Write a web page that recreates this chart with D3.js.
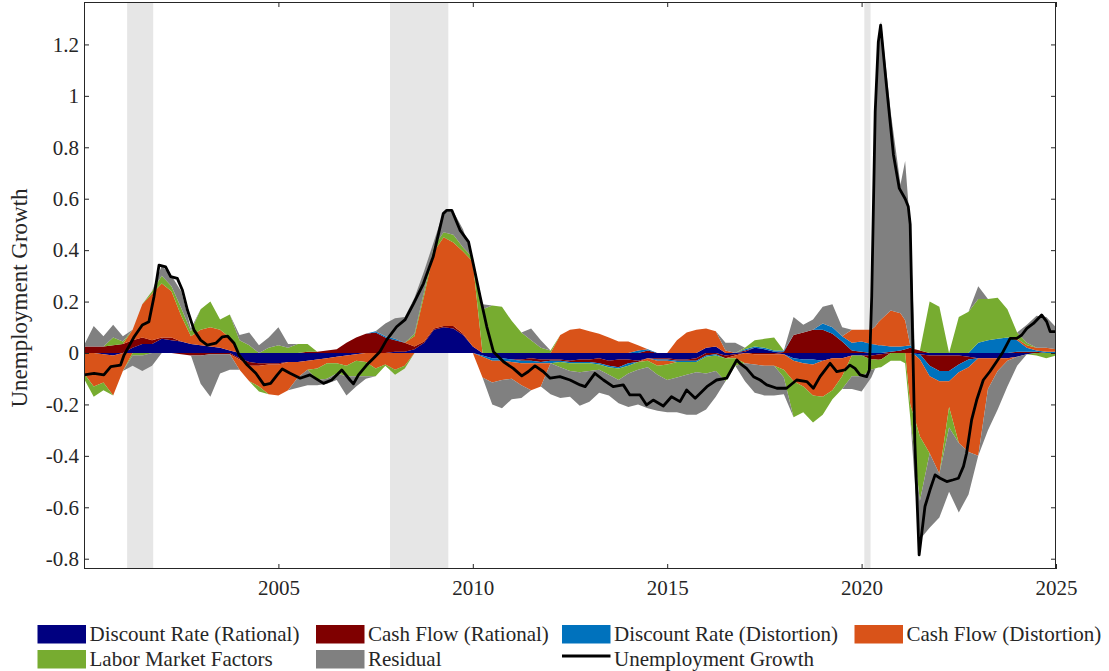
<!DOCTYPE html>
<html>
<head>
<meta charset="utf-8">
<script src="https://cdn.jsdelivr.net/npm/d3@7"></script>
<style>
  body { margin: 0; background: #fff; }
  svg text { font-family: "Liberation Serif", "Times New Roman", serif; fill: #262626; }
</style>
</head>
<body>
<div id="chart"></div>
<script>
// quarterly grid for the contributions, 2000Q1 .. 2025Q1, plus a few extra points around the 2020 spike
const dates = d3.range(101).map(i => 2000 + i / 4)
  .concat([2020.35, 2020.43, 2021.12, 2021.37])
  .sort((a, b) => a - b);

const drRational = [
  0, 0, -0.005, -0.01, 0, 0.02, 0.035, 0.035, 0.055, 0.05,
  0.045, 0.035, 0.03, 0.025, 0.02, 0.01, -0.02, -0.035, -0.04, -0.04,
  -0.04, -0.035, -0.035, -0.03, -0.025, -0.02, -0.015, -0.01, -0.005, 0,
  0, 0, 0.005, 0.005, 0.015, 0.04, 0.09, 0.1, 0.095, 0.07,
  0.025, -0.01, -0.02, -0.02, -0.025, -0.025, -0.02, -0.025, -0.025, -0.025,
  -0.03, -0.025, -0.025, -0.02, -0.03, -0.025, -0.025, -0.03, -0.02, -0.02,
  -0.02, -0.025, -0.025, -0.02, 0.02, 0.025, -0.01, -0.005, 0.005, 0.02,
  0.015, 0.005, -0.005, -0.02, -0.025, -0.025, -0.03, -0.02, -0.02, -0.01,
  -0.01, -0.01, -0.008, -0.006, -0.005, 0, 0, 0, 0, -0.003, -0.005, -0.01, -0.01, -0.01,
  -0.01, -0.015, -0.02, -0.02, -0.02, -0.02, -0.015, -0.005, 0, 0,
  0
];
const cfRational = [
  0.025, 0.025, 0.025, 0.03, 0.035, 0.03, 0.025, 0.015, 0.005, 0.01,
  -0.005, -0.01, -0.01, -0.005, -0.005, -0.005, -0.005, -0.015, -0.01, -0.005,
  -0.005, 0, 0, 0.005, 0.005, 0.01, 0.015, 0.04, 0.06, 0.075,
  0.08, 0.06, 0.045, 0.035, 0.01, 0.005, 0.005, 0.005, 0.01, 0.005,
  0, 0, 0, 0, 0, -0.005, -0.01, -0.01, -0.005, -0.005,
  -0.005, -0.01, -0.01, -0.02, -0.02, -0.03, -0.015, -0.005, 0.01, -0.005,
  -0.005, -0.005, -0.005, -0.01, -0.01, -0.005, -0.01, -0.005, 0.005, -0.005,
  -0.005, -0.005, 0.005, 0.07, 0.08, 0.09, 0.09, 0.075, 0.045, 0.01,
  0.005, -0.015, -0.017, -0.02, -0.02, 0.005, 0.01, 0.015, 0.02, 0.015, 0.01, -0.04, -0.06, -0.06,
  -0.035, -0.01, 0, 0, 0, 0, 0.005, 0.005, 0.005, 0,
  0
];
const drDistortion = [
  0, 0, 0, 0, 0, 0, 0, 0, 0, 0,
  0, 0, 0, 0, 0, 0, 0, 0, 0, 0,
  0, 0, 0, 0, 0, 0, 0, 0, 0, 0,
  0.005, 0.005, 0.005, 0, 0, 0, 0, 0, 0, 0,
  0, -0.005, -0.01, -0.01, -0.01, -0.01, -0.01, -0.005, -0.01, -0.005,
  -0.005, -0.005, -0.005, -0.005, -0.005, -0.005, -0.01, 0.01, 0.005, -0.005,
  -0.005, -0.005, -0.005, -0.005, -0.005, -0.005, 0, 0, 0.005, 0.005,
  0.005, 0.005, 0.005, -0.01, -0.015, -0.02, 0.025, 0.025, 0.02, 0.03,
  0.04, 0.035, 0.033, 0.03, 0.03, 0.02, 0.015, 0.012, 0.01, -0.005, -0.02, -0.04, -0.04, -0.04,
  -0.03, -0.03, 0.04, 0.05, 0.055, 0.06, 0.045, 0.015, 0.005, 0.005,
  0.005
];
const cfDistortion = [
  -0.08, -0.13, -0.11, -0.155, -0.07, 0.04, 0.13, 0.18, 0.21, 0.18,
  0.10, 0.03, 0.06, 0.075, 0.07, 0.05, -0.04, -0.06, -0.08, -0.115,
  -0.12, -0.11, -0.06, -0.035, -0.035, -0.02, -0.025, -0.04, -0.025, -0.035,
  -0.06, -0.045, -0.065, -0.05, 0.04, 0.18, 0.3, 0.345, 0.325, 0.32,
  0.33, -0.08, -0.085, -0.075, -0.065, -0.085, -0.105, -0.09, 0, 0.07,
  0.09, 0.095, 0.085, 0.075, 0.06, 0.045, 0.045, 0.02, -0.01, -0.02,
  -0.015, 0.05, 0.08, 0.09, 0.075, 0.06, 0.01, -0.01, -0.04, -0.04,
  -0.045, -0.045, -0.06, -0.08, -0.09, -0.12, -0.14, -0.125, -0.07, 0.05,
  0.045, 0.055, 0.07, 0.09, 0.1, 0.14, 0.13, 0.1, -0.2, -0.25, -0.3, -0.3, -0.36, -0.1,
  -0.275, -0.33, -0.38, -0.12, -0.05, -0.01, 0.005, 0.01, 0.01, 0.015,
  0.01
];
const laborMarket = [
  -0.02, -0.04, -0.03, 0.03, 0.01, -0.01, -0.01, 0.01, 0.03, 0.02,
  0.03, 0.02, 0.08, 0.1, 0.04, 0.09, 0.05, 0.03, -0.02, 0.02,
  0.03, 0.02, 0.035, 0.03, -0.045, -0.06, -0.04, -0.04, -0.06, -0.055,
  -0.03, -0.005, -0.02, -0.01, 0.01, 0.015, 0.02, 0.02, 0.03, 0.015,
  0.015, 0.17, 0.185, 0.18, 0.125, 0.08, 0.05, 0.02, 0.01, -0.02,
  -0.03, -0.035, -0.03, -0.02, -0.03, -0.045, -0.03, -0.03, -0.025, -0.035,
  -0.06, -0.06, -0.05, -0.04, -0.065, -0.06, -0.09, -0.03, 0.005, 0.025,
  0.035, 0.05, -0.03, -0.14, -0.1, -0.105, -0.07, -0.035, -0.05, -0.08,
  -0.08, -0.04, -0.035, -0.03, -0.03, -0.03, -0.03, -0.04, -0.05, -0.15, -0.25, 0.2, 0.18, -0.08,
  0.14, 0.16, 0.17, 0.16, 0.16, 0.11, 0.025, 0.01, -0.01, -0.02,
  -0.01
];
const residual = [
  0.005, 0.08, 0.04, 0.05, 0.02, -0.04, -0.06, -0.05, 0.04, 0.04,
  0.065, 0.01, -0.11, -0.165, -0.075, -0.06, 0.02, 0.05, 0.03, 0.04,
  0.07, 0.015, -0.04, -0.06, -0.02, -0.02, -0.025, -0.075, -0.04, -0.01,
  0, 0.05, 0.08, 0.1, 0.14, 0.08, 0.02, 0.08, 0.09, 0.07,
  0, 0.02, -0.085, -0.11, -0.08, -0.05, 0.045, 0.03, -0.12, -0.12,
  -0.1, -0.13, -0.12, -0.09, -0.08, -0.09, -0.13, -0.135, -0.16, -0.14,
  -0.125, -0.135, -0.155, -0.165, -0.14, -0.1, 0.03, 0.04, -0.07, -0.11,
  -0.115, -0.115, -0.065, 0.07, 0.03, 0.04, 0.065, 0.09, 0.035, -0.05,
  -0.06, -0.03, 0.84, 1.09, 1.16, 0.77, 0.5, 0.62, 0.46, -0.1, -0.15, -0.29, -0.17, -0.25,
  -0.27, -0.165, 0.05, -0.16, -0.15, -0.1, -0.035, 0.07, 0.125, 0.12,
  0.085
];

// unemployment growth, read at its own (finer, irregular) dates
const lineYears = [
  2000.00, 2000.26, 2000.51, 2000.69, 2000.94, 2001.03, 2001.29, 2001.50, 2001.67, 2001.80,
  2001.93, 2002.10, 2002.23, 2002.40, 2002.53, 2002.66, 2002.83, 2003.00, 2003.17, 2003.39,
  2003.56, 2003.69, 2003.86, 2003.99, 2004.20, 2004.42, 2004.63, 2004.80, 2004.97, 2005.10,
  2005.30, 2005.56, 2005.81, 2006.16, 2006.37, 2006.63, 2006.84, 2006.93, 2007.06, 2007.27,
  2007.44, 2007.61, 2007.78, 2008.04, 2008.26, 2008.47, 2008.73, 2008.98, 2009.24, 2009.33,
  2009.46, 2009.67, 2009.89, 2010.01, 2010.19, 2010.36, 2010.53, 2010.79, 2011.04, 2011.26,
  2011.43, 2011.60, 2011.81, 2011.99, 2012.24, 2012.50, 2012.76, 2012.89, 2013.14, 2013.36,
  2013.61, 2013.87, 2014.04, 2014.30, 2014.47, 2014.64, 2014.90, 2015.11, 2015.33, 2015.50,
  2015.72, 2016.02, 2016.27, 2016.53, 2016.79, 2016.87, 2017.04, 2017.22, 2017.39, 2017.56,
  2017.82, 2018.07, 2018.33, 2018.59, 2018.76, 2018.93, 2019.19, 2019.36, 2019.57, 2019.70,
  2019.83, 2019.96, 2020.13, 2020.20, 2020.26, 2020.35, 2020.43, 2020.49, 2020.64, 2020.82,
  2020.97, 2021.12, 2021.20, 2021.25, 2021.37, 2021.48, 2021.63, 2021.76, 2021.89, 2022.02,
  2022.19, 2022.36, 2022.49, 2022.62, 2022.70, 2022.83, 2022.96, 2023.13, 2023.30, 2023.47,
  2023.64, 2023.82, 2023.99, 2024.12, 2024.25, 2024.42, 2024.63, 2024.76, 2024.85, 2025.00
];
const unempGrowth = [
  -0.085, -0.079, -0.085, -0.053, -0.047, -0.008, 0.063, 0.109, 0.122, 0.219,
  0.342, 0.335, 0.297, 0.29, 0.245, 0.167, 0.089, 0.05, 0.031, 0.038,
  0.063, 0.066, 0.038, -0.008, -0.047, -0.079, -0.124, -0.118, -0.085, -0.062,
  -0.079, -0.098, -0.085, -0.118, -0.105, -0.066, -0.105, -0.12, -0.085, -0.047,
  -0.021, 0.005, 0.05, 0.102, 0.13, 0.19, 0.27, 0.374, 0.542, 0.555,
  0.555, 0.478, 0.432, 0.348, 0.219, 0.102, 0.005, -0.034, -0.06, -0.089,
  -0.072, -0.05, -0.072, -0.098, -0.092, -0.105, -0.124, -0.131, -0.079, -0.105,
  -0.131, -0.124, -0.163, -0.163, -0.202, -0.183, -0.206, -0.17, -0.189, -0.144,
  -0.176, -0.131, -0.105, -0.098, -0.027, -0.04, -0.06, -0.092, -0.105, -0.124,
  -0.137, -0.137, -0.105, -0.111, -0.137, -0.092, -0.04, -0.072, -0.066, -0.047,
  -0.06, -0.085, -0.092, -0.066, 0.22, 0.94, 1.21, 1.275, 1.04, 0.77,
  0.64, 0.6, 0.57, 0.5, -0.35, -0.785, -0.597, -0.532, -0.474, -0.487,
  -0.5, -0.493, -0.487, -0.441, -0.39, -0.26, -0.183, -0.105, -0.072, -0.034,
  0.005, 0.057, 0.057, 0.07, 0.096, 0.115, 0.148, 0.122, 0.083, 0.083
];

// recession bands (decimal years)
const recessions = [[2001.11, 2001.78], [2007.87, 2009.37], [2020.07, 2020.23]];

const seriesNames = ["Discount Rate (Rational)", "Cash Flow (Rational)", "Discount Rate (Distortion)",
  "Cash Flow (Distortion)", "Labor Market Factors", "Residual"];
const seriesValues = [drRational, cfRational, drDistortion, cfDistortion, laborMarket, residual];
const seriesColors = ["#000080", "#7f0000", "#0072bd", "#d95319", "#77ac30", "#808080"];
const lineName = "Unemployment Growth";

const xTicks = [2005, 2010, 2015, 2020, 2025];
const yTicks = [-0.8, -0.6, -0.4, -0.2, 0, 0.2, 0.4, 0.6, 0.8, 1, 1.2];

const W = 1109, H = 671;
const margin = { top: 2, right: 53, bottom: 102, left: 84 };
const width = W - margin.left - margin.right;
const height = H - margin.top - margin.bottom;

const svgRoot = d3.select("#chart").append("svg")
  .attr("width", W).attr("height", H);
svgRoot.append("rect").attr("width", W).attr("height", H).attr("fill", "#fff");

const svg = svgRoot.append("g")
  .attr("transform", `translate(${margin.left},${margin.top})`);

const x = d3.scaleLinear().domain([2000, 2025]).range([0, width]);
const y = d3.scaleLinear().domain([-0.84, 1.365]).range([height, 0]);

svg.append("clipPath").attr("id", "plotclip")
  .append("rect").attr("width", width).attr("height", height);

const plot = svg.append("g").attr("clip-path", "url(#plotclip)");

// recession shading
plot.selectAll(".rec")
  .data(recessions)
  .join("rect")
  .attr("x", d => x(d[0]))
  .attr("width", d => x(d[1]) - x(d[0]))
  .attr("y", 0)
  .attr("height", height)
  .attr("fill", "#e6e6e6");

// stacked contributions: positive parts stacked up, negative parts down
const keys = seriesNames.map((n, i) => "s" + i);
const rows = dates.map((d, j) => {
  const r = { date: d };
  keys.forEach((k, i) => r[k] = seriesValues[i][j]);
  return r;
});
const posStack = d3.stack().keys(keys).value((d, k) => Math.max(0, d[k]))(rows);
const negStack = d3.stack().keys(keys).value((d, k) => Math.min(0, d[k]))(rows);

const area = d3.area()
  .x(d => x(d.data.date))
  .y0(d => y(d[0]))
  .y1(d => y(d[1]));

keys.forEach((k, i) => {
  [posStack[i], negStack[i]].forEach(layer => {
    plot.append("path")
      .datum(layer)
      .attr("d", area)
      .attr("fill", seriesColors[i]);
  });
});

// unemployment growth line
const line = d3.line()
  .x((d, i) => x(lineYears[i]))
  .y(d => y(d));

plot.append("path")
  .datum(unempGrowth)
  .attr("d", line)
  .attr("fill", "none")
  .attr("stroke", "#000")
  .attr("stroke-width", 2.8)
  .attr("stroke-linejoin", "round");

// axes
const axisColor = "#262626";
const fmtY = d => d === 0 ? "0" : String(+d.toFixed(1));

const gx = svg.append("g").attr("transform", `translate(0,${height})`)
  .call(d3.axisBottom(x).tickValues(xTicks).tickFormat(d3.format("d"))
    .tickSizeInner(-5).tickSizeOuter(0).tickPadding(11));
const gxTop = svg.append("g")
  .call(d3.axisTop(x).tickValues(xTicks).tickFormat("")
    .tickSizeInner(-5).tickSizeOuter(0));
const gy = svg.append("g")
  .call(d3.axisLeft(y).tickValues(yTicks).tickFormat(fmtY)
    .tickSizeInner(-5).tickSizeOuter(0).tickPadding(5));
const gyRight = svg.append("g").attr("transform", `translate(${width},0)`)
  .call(d3.axisRight(y).tickValues(yTicks).tickFormat("")
    .tickSizeInner(-5).tickSizeOuter(0));

[gx, gxTop, gy, gyRight].forEach(g => {
  g.select(".domain").remove();
  g.selectAll(".tick line").attr("stroke", axisColor).attr("stroke-width", 1);
  g.selectAll(".tick text").attr("font-size", 21).attr("fill", axisColor)
    .style("font-family", '"Liberation Serif", serif');
});

svg.append("rect")
  .attr("x", 0.5).attr("y", 0.5)
  .attr("width", width - 1).attr("height", height - 1)
  .attr("fill", "none")
  .attr("stroke", axisColor)
  .attr("stroke-width", 1);

// y label
svgRoot.append("text")
  .attr("transform", "translate(27,298) rotate(-90)")
  .attr("text-anchor", "middle")
  .attr("font-size", 23)
  .text("Unemployment Growth");

// legend
const legendCols = [37.5, 316, 562, 854.5];
const legendItems = seriesNames.map((n, i) => ({ name: n, color: seriesColors[i], type: "area" }))
  .concat([{ name: lineName, color: "#000", type: "line" }]);
const legendPos = [[0, 0], [1, 0], [2, 0], [3, 0], [0, 1], [1, 1], [2, 1]];

const legend = svgRoot.append("g");
legendItems.forEach((it, i) => {
  const [c, r] = legendPos[i];
  const lx = legendCols[c];
  const top = 625 + r * 25;
  const g = legend.append("g");
  if (it.type === "area") {
    g.append("rect").attr("x", lx).attr("y", top)
      .attr("width", 48.5).attr("height", 18.5).attr("fill", it.color);
  } else {
    g.append("line").attr("x1", lx).attr("x2", lx + 48.5)
      .attr("y1", top + 6).attr("y2", top + 6)
      .attr("stroke", it.color).attr("stroke-width", 2.8);
  }
  g.append("text").attr("x", lx + 52).attr("y", top + 15.5)
    .attr("font-size", 21)
    .text(it.name);
});
</script>
</body>
</html>
